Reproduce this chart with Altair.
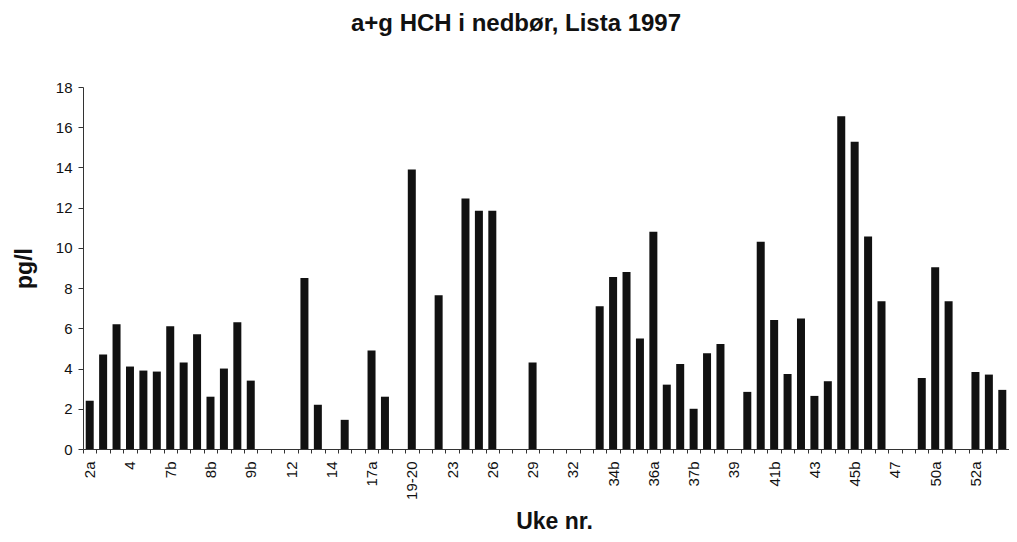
import altair as alt
import pandas as pd

weeks = ["2a", "2b", "3", "4", "5", "7a", "7b", "7c", "8a", "8b", "8c", "9a", "9b",
         "10", "11", "12", "13a", "13b", "14", "15", "16", "17a", "17b", "18",
         "19-20", "21", "22", "23", "24", "25", "26", "27", "28", "29", "30", "31",
         "32", "33", "34a", "34b", "35a", "35b", "36a", "36b", "37a", "37b", "38a",
         "38b", "39", "40", "41a", "41b", "42a", "42b", "43", "44", "45a", "45b",
         "46a", "46b", "47", "48", "49", "50a", "50b", "51", "52a", "52b", "52c"]

values = [2.4, 4.7, 6.2, 4.1, 3.9, 3.85, 6.1, 4.3, 5.7, 2.6, 4.0, 6.3, 3.4,
          None, None, None, 8.5, 2.2, None, 1.45, None, 4.9, 2.6, None,
          13.9, None, 7.65, None, 12.45, 11.85, 11.85, None, None, 4.3, None, None,
          None, None, 7.1, 8.55, 8.8, 5.5, 10.8, 3.2, 4.23, 2.0, 4.76,
          5.22, None, 2.84, 10.3, 6.42, 3.73, 6.49, 2.64, 3.37, 16.54, 15.28,
          10.57, 7.35, None, None, 3.53, 9.04, 7.35, None, 3.83, 3.7, 2.94]

tick_labels = ["2a", "4", "7b", "8b", "9b", "12", "14", "17a", "19-20", "23", "26",
               "29", "32", "34b", "36a", "37b", "39", "41b", "43", "45b", "47",
               "50a", "52a"]

y_ticks = [0, 2, 4, 6, 8, 10, 12, 14, 16, 18]

df = pd.DataFrame({"week": weeks, "value": values})

FONT = "Liberation Sans"
label_list = ",".join("'" + t + "'" for t in tick_labels)
label_expr = "indexof([" + label_list + "], datum.value) >= 0 ? datum.label : ''"

W, H = 926, 362

chart = alt.Chart(df).mark_bar(color="#111111", size=8).encode(
    x=alt.X("week:N",
            scale=alt.Scale(domain=weeks, paddingInner=0, paddingOuter=0),
            sort=None,
            axis=alt.Axis(title="Uke nr.", labelAngle=-90, labelFontSize=15,
                          labelFont=FONT, labelColor="#111111", labelExpr=label_expr,
                          labelOverlap=False, labelPadding=8, tickSize=4,
                          tickBand="extent", tickColor="#333333",
                          domainColor="#333333", titleFont=FONT, titleFontSize=23,
                          titleFontWeight="bold", titleColor="#111111",
                          titleX=471, titleY=79, titleBaseline="alphabetic",
                          titleAlign="center")),
    y=alt.Y("value:Q",
            scale=alt.Scale(domain=[0, 18], nice=False),
            axis=alt.Axis(title="pg/l", values=y_ticks, grid=False, labelFontSize=15,
                          labelFont=FONT, labelColor="#111111", labelPadding=6,
                          tickSize=5, tickColor="#333333", domainColor="#333333",
                          titleFont=FONT, titleFontSize=23, titleFontWeight="bold",
                          titleColor="#111111", titleX=-52, titleY=181,
                          titleBaseline="alphabetic", titleAngle=-90,
                          titleAlign="center")),
).properties(
    width=W,
    height=H,
    autosize=alt.AutoSizeParams(type="none"),
    padding={"left": 75, "top": 79, "right": 0, "bottom": 85},
    title=alt.TitleParams("a+g HCH i nedbør, Lista 1997", font=FONT, fontSize=24,
                          fontWeight="bold", color="#111111", frame="group",
                          anchor="middle", baseline="bottom", offset=20, dx=-30),
).configure(background="white").configure_view(stroke=None)

chart.save("out.html", embed_options={"renderer": "svg", "actions": False})
